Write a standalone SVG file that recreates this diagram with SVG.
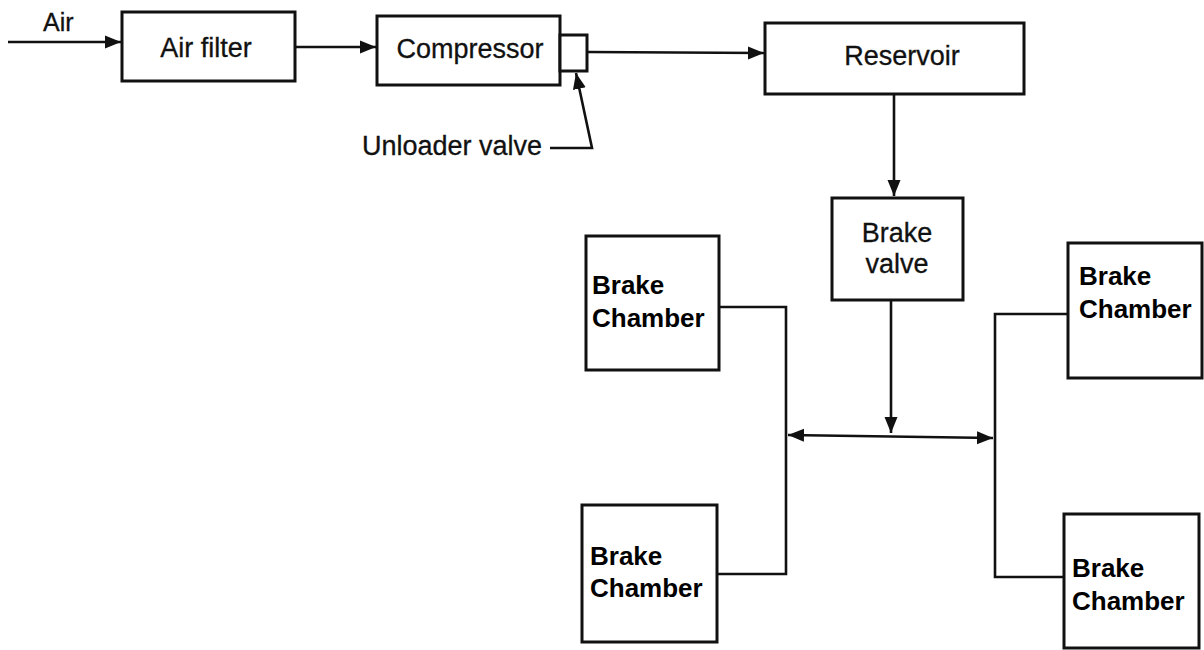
<svg xmlns="http://www.w3.org/2000/svg" width="1204" height="650" viewBox="0 0 1204 650">
  <style>
    .box { fill: #fff; stroke: #111; stroke-width: 3; }
    .wire { fill: none; stroke: #111; stroke-width: 2.6; }
    .t { font-family: "Liberation Sans", Arial, sans-serif; font-size: 27px; fill: #111; stroke: #111; stroke-width: 0.3; }
    .tb { font-family: "Liberation Sans", Arial, sans-serif; font-size: 26px; font-weight: bold; fill: #000; }
  </style>
  <defs>
    <marker id="arr" markerUnits="userSpaceOnUse" markerWidth="18" markerHeight="16" refX="16" refY="8" orient="auto-start-reverse">
      <path d="M0,1.5 L16,8 L0,14.5 Z" fill="#111"/>
    </marker>
  </defs>
  <rect width="1204" height="650" fill="#fff"/>

  <g id="connectors">
    <path class="wire" d="M8 42 L121 42" marker-end="url(#arr)"/>
    <path class="wire" d="M295 47 L376 47" marker-end="url(#arr)"/>
    <path class="wire" d="M587 52 L764 53" marker-end="url(#arr)"/>
    <path class="wire" d="M894 93 L894 196" marker-end="url(#arr)"/>
    <path class="wire" d="M891 300 L891 433" marker-end="url(#arr)"/>
    <path class="wire" d="M788 435 L993 438" marker-start="url(#arr)" marker-end="url(#arr)"/>
    <path class="wire" d="M719 307 L786 307 L786 574 L717 574"/>
    <path class="wire" d="M1068 314 L995 314 L995 577 L1064 577"/>
    <path class="wire" d="M550 148 L592 148 L576 73" marker-end="url(#arr)"/>
  </g>

  <g id="air-label"><text class="t" x="43" y="31" style="font-size:25px">Air</text></g>

  <g id="air-filter">
    <rect class="box" x="122" y="12" width="173" height="69"/>
    <text class="t" x="206" y="57" text-anchor="middle">Air filter</text>
  </g>

  <g id="compressor">
    <rect class="box" x="377" y="16" width="183" height="69"/>
    <text class="t" x="470" y="58" text-anchor="middle">Compressor</text>
  </g>

  <g id="unloader-valve">
    <rect class="box" x="560" y="35" width="27" height="36"/>
    <text class="t" x="362" y="155">Unloader valve</text>
  </g>

  <g id="reservoir">
    <rect class="box" x="765" y="23" width="259" height="71"/>
    <text class="t" x="902" y="65" text-anchor="middle">Reservoir</text>
  </g>

  <g id="brake-valve">
    <rect class="box" x="832" y="198" width="131" height="102"/>
    <text class="t" x="897" y="242" text-anchor="middle">Brake</text>
    <text class="t" x="897" y="273" text-anchor="middle">valve</text>
  </g>

  <g id="brake-chamber-ul">
    <rect class="box" x="586" y="236" width="133" height="134"/>
    <text class="tb" x="592" y="294">Brake</text>
    <text class="tb" x="592" y="327">Chamber</text>
  </g>

  <g id="brake-chamber-ll">
    <rect class="box" x="582" y="505" width="135" height="137"/>
    <text class="tb" x="590" y="565">Brake</text>
    <text class="tb" x="590" y="597">Chamber</text>
  </g>

  <g id="brake-chamber-ur">
    <rect class="box" x="1068" y="243" width="134" height="135"/>
    <text class="tb" x="1079" y="285">Brake</text>
    <text class="tb" x="1079" y="318">Chamber</text>
  </g>

  <g id="brake-chamber-lr">
    <rect class="box" x="1064" y="514" width="135" height="134"/>
    <text class="tb" x="1072" y="577">Brake</text>
    <text class="tb" x="1072" y="610">Chamber</text>
  </g>
</svg>
